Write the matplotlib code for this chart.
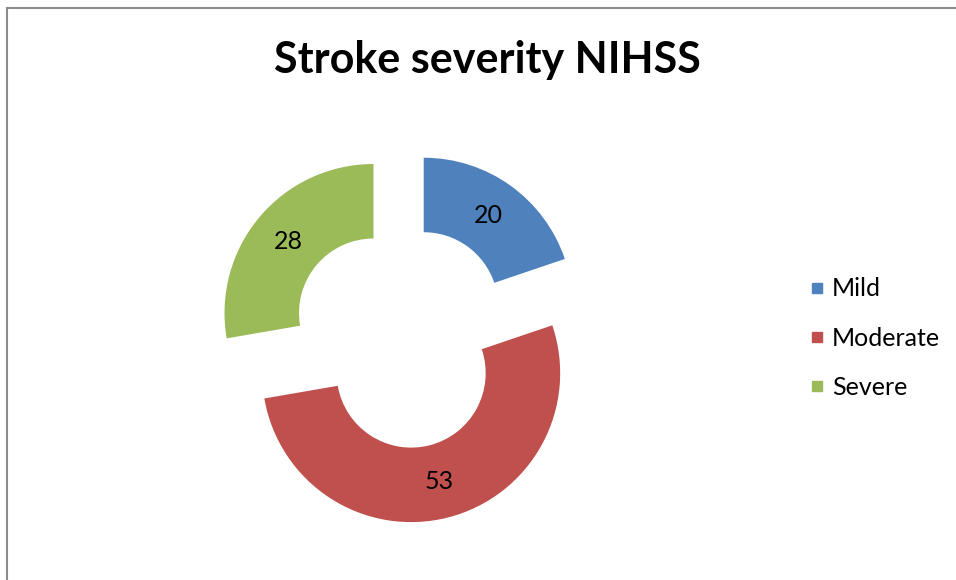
import matplotlib
matplotlib.use("Agg")
import matplotlib.pyplot as plt
from matplotlib.lines import Line2D

categories = ["Mild", "Moderate", "Severe"]
values = [20, 53, 28]
colors = ["#4F81BD", "#C0504D", "#9BBB59"]
title = "Stroke severity NIHSS"

plt.rcParams["font.family"] = ["Lato", "DejaVu Sans"]

W, H = 956, 580
fig = plt.figure(figsize=(W / 100, H / 100), dpi=100)
fig.patch.set_facecolor("white")

# donut centre and outer radius in pixels
cx, cy, R = 402, 337, 149
half_w, half_h = 300, 240
ax = fig.add_axes([(cx - half_w) / W, (H - cy - half_h) / H,
                   2 * half_w / W, 2 * half_h / H])

total = sum(values)
wedges, texts, autotexts = ax.pie(
    values,
    colors=colors,
    startangle=90,
    counterclock=False,
    explode=[0.25] * len(values),
    radius=1.0,
    wedgeprops=dict(width=0.5, edgecolor="none"),
    autopct=lambda p: f"{round(p * total / 100):d}",
    pctdistance=0.75,
    textprops=dict(fontsize=18, color="black"),
)
ax.set_xlim(-half_w / R, half_w / R)
ax.set_ylim(-half_h / R, half_h / R)
ax.set_aspect("auto")
ax.axis("off")

fig.text(487 / W, 1 - 60 / H, title, ha="center", va="center",
         fontsize=31, fontweight="bold", color="black")

handles = [Line2D([0], [0], marker="s", linestyle="none", markersize=7.5,
                  markerfacecolor=c, markeredgecolor=c) for c in colors]
fig.legend(handles, categories, loc="center left",
           bbox_to_anchor=(797 / W, 1 - 338 / H), frameon=False,
           fontsize=18, handlelength=0.6, handletextpad=0.3,
           labelspacing=1.05, borderpad=0)

# chart area frame (left and top edges visible)
frame_col = "#8C8C8C"
fig.add_artist(Line2D([6.5 / W, 6.5 / W], [0, 1 - 7.5 / H],
                      transform=fig.transFigure, color=frame_col, linewidth=1.5))
fig.add_artist(Line2D([6.5 / W, 1], [1 - 7.5 / H, 1 - 7.5 / H],
                      transform=fig.transFigure, color=frame_col, linewidth=1.5))

fig.savefig("out.png", dpi=100, facecolor="white")
